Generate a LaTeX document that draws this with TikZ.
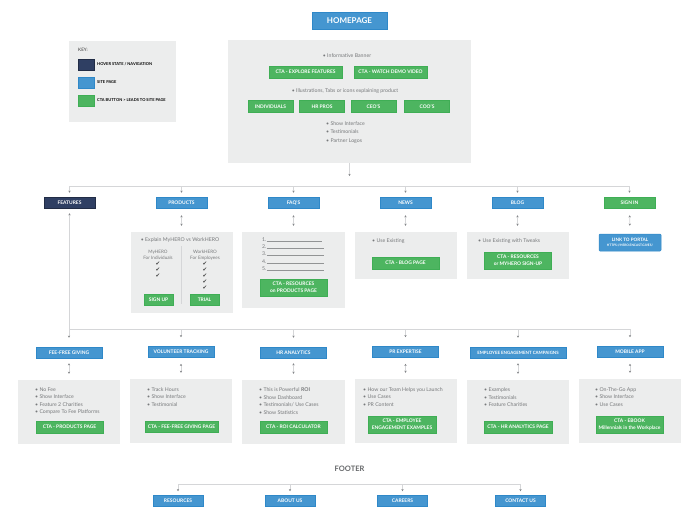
\documentclass[tikz,border=0pt]{standalone}
\usepackage{fontspec}
\setmainfont{Lato}
\newfontfamily\tickfont{DejaVu Sans}
\usetikzlibrary{arrows.meta}
\definecolor{pageblue}{HTML}{4596D0}
\definecolor{pageedge}{HTML}{2F88C8}
\definecolor{ctagreen}{HTML}{4DB560}
\definecolor{ctaedge}{HTML}{3FAE55}
\definecolor{navbar}{HTML}{2F3F63}
\definecolor{panelgray}{HTML}{ECEDED}
\definecolor{bodygray}{HTML}{77797B}
\definecolor{linegray}{HTML}{D5D6D8}
\definecolor{tipgray}{HTML}{85878A}
\tikzset{
	btn/.style={inner sep=0,align=center,text=white,font=\fontsize{4.9}{6.6}\selectfont\bfseries},
	page/.style={btn,fill=pageblue,draw=pageedge,line width=.5pt},
	hover/.style={btn,fill=navbar,draw=navbar!70!black,line width=.5pt},
	cta/.style={btn,fill=ctagreen,draw=ctaedge,line width=.5pt},
	panel/.style={fill=panelgray,inner sep=0},
	bullets/.style={anchor=west,inner sep=0,align=left,text=bodygray,font=\fontsize{5.2}{7.5}\selectfont},
	keytext/.style={anchor=west,inner sep=0,font=\fontsize{4}{4.5}\selectfont\bfseries},
	tick/.style={inner sep=0,text=black!75,font=\fontsize{5.5}{6}\selectfont\tickfont},
	bus/.style={color=linegray,line width=.7pt},
	link/.style={color=linegray,line width=.7pt,>={Stealth[length=2.2pt,width=2.4pt,color=tipgray]}}
}
\begin{document}
\begin{tikzpicture}[x=1pt,y=-1pt]
	\useasboundingbox (0,0) rectangle (700,521);
	% key
	\node[panel,minimum width=107pt,minimum height=81pt] (keybox) at (122.5,81.5) {};
	\node[anchor=west,inner sep=0,font=\fontsize{4.6}{5}\selectfont,text=black!80] (keytitle) at (78,50) {KEY:};
	\node[hover,minimum width=16pt,minimum height=11pt] (keyhover) at (86,64.5) {};
	\node[page,minimum width=16pt,minimum height=11pt] (keypage) at (86,82.5) {};
	\node[cta,minimum width=16pt,minimum height=11pt] (keycta) at (86,101) {};
	\node[keytext] (keyhovertxt) at (97,64) {HOVER STATE / NAVIGATION};
	\node[keytext] (keypagetxt) at (97,82.5) {SITE PAGE};
	\node[keytext] (keyctatxt) at (97,100.5) {CTA BUTTON > LEADS TO SITE PAGE};
	% homepage
	\node[page,minimum width=75pt,minimum height=17pt,font=\fontsize{8}{9}\selectfont\bfseries] (home) at (349.5,21) {HOMEPAGE};
	\node[panel,minimum width=243pt,minimum height=123pt] (homebox) at (349.5,101.5) {};
	\node[bullets,anchor=center] (banner) at (347,56) {• Informative Banner};
	\node[cta,minimum width=73pt,minimum height=12pt] (explore) at (305.5,72) {CTA - EXPLORE FEATURES};
	\node[cta,minimum width=73pt,minimum height=12pt] (watch) at (390.5,72) {CTA - WATCH DEMO VIDEO};
	\node[bullets,anchor=center] (illus) at (345,91) {• Illustrations, Tabs or icons explaining product};
	\node[cta,minimum width=45pt,minimum height=12pt] (indiv) at (270.5,106.5) {INDIVIDUALS};
	\node[cta,minimum width=45pt,minimum height=12pt] (hrpros) at (322,106.5) {HR PROS};
	\node[cta,minimum width=45pt,minimum height=12pt] (ceos) at (373.5,106.5) {CEO'S};
	\node[cta,minimum width=45pt,minimum height=12pt] (coos) at (427,106.5) {COO'S};
	\node[bullets,font=\fontsize{5.2}{8.7}\selectfont] (homelist) at (326,132.5) {• Show Interface\\• Testimonials\\• Partner Logos};
	% top row
	\coordinate (topbus) at (349.5,186.5);
	\node[hover,minimum width=51pt,minimum height=11pt] (features) at (69.5,202.5) {FEATURES};
	\node[page,minimum width=51pt,minimum height=11pt] (products) at (181.5,202.5) {PRODUCTS};
	\node[page,minimum width=51pt,minimum height=11pt,text depth=0pt] (faqs) at (293.5,202.5) {FAQ'S};
	\node[page,minimum width=51pt,minimum height=11pt] (news) at (405.5,202.5) {NEWS};
	\node[page,minimum width=51pt,minimum height=11pt] (blog) at (517.5,202.5) {BLOG};
	\node[cta,minimum width=51pt,minimum height=11pt] (signin) at (629.5,202.5) {SIGN IN};
	\draw[link,->,shorten >=10.5pt] (homebox.south) -- (topbus);
	\draw[bus] (features |- topbus) -- (signin |- topbus);
	\foreach \n in {features,products,faqs,news,blog,signin}
		\draw[link,->,shorten >=4pt] (\n |- topbus) -- (\n.north);
	% products
	\node[panel,minimum width=102pt,minimum height=81pt] (productsbox) at (181.5,272.5) {};
	\draw[link,<->,shorten <=7pt,shorten >=6pt] (products) -- (productsbox);
	\node[bullets,anchor=center] (explain) at (180,240) {• Explain MyHERO vs WorkHERO};
	\node[bullets,anchor=center,align=center,font=\fontsize{4.6}{6.2}\selectfont] (myhero) at (158,255) {MyHERO\\For Individuals};
	\node[bullets,anchor=center,align=center,font=\fontsize{4.6}{6.2}\selectfont] (workhero) at (205,255) {WorkHERO\\For Employees};
	\coordinate (divtop) at (181.5,246);
	\coordinate (divbot) at (181.5,304);
	\draw[bus] (divtop) -- (divbot);
	\foreach \y in {264,270,276}
		\node[tick] (mytick\y) at (158,\y) {✔};
	\foreach \y in {264,270,276,282,288}
		\node[tick] (worktick\y) at (205,\y) {✔};
	\node[cta,minimum width=29pt,minimum height=11pt] (signup) at (158.5,299.5) {SIGN UP};
	\node[cta,minimum width=29pt,minimum height=11pt] (trial) at (204.5,299.5) {TRIAL};
	% faqs
	\node[panel,minimum width=103pt,minimum height=76pt] (faqsbox) at (293.5,270) {};
	\draw[link,<->,shorten <=7pt,shorten >=6pt] (faqs) -- (faqsbox);
	\foreach \n/\y/\e in {1/241/322,2/248/324,3/255/324,4/263/324,5/270/324} {
		\node[anchor=base west,inner sep=0,text=bodygray,font=\fontsize{5.2}{6}\selectfont] (faqnum\n) at (262,\y) {\n.};
		\draw[color=bodygray!80,line width=.35pt] (faqnum\n.base east) -- (\e,\y);
	}
	\node[cta,minimum width=67pt,minimum height=17pt] (faqcta) at (293.5,287.5) {CTA - RESOURCES\\on PRODUCTS PAGE};
	% news
	\node[panel,minimum width=102pt,minimum height=47pt] (newsbox) at (406,255.5) {};
	\draw[link,<->,shorten <=7pt,shorten >=6pt] (news) -- (news |- newsbox.north);
	\node[bullets] (newslist) at (372,241) {• Use Existing};
	\node[cta,minimum width=67pt,minimum height=12pt] (newscta) at (405.5,263) {CTA - BLOG PAGE};
	% blog
	\node[panel,minimum width=102pt,minimum height=47pt] (blogbox) at (518,255.5) {};
	\draw[link,<->,shorten <=7pt,shorten >=6pt] (blog) -- (blog |- blogbox.north);
	\node[bullets] (bloglist) at (478,241) {• Use Existing with Tweaks};
	\node[cta,minimum width=67pt,minimum height=17pt] (blogcta) at (518,260.5) {CTA - RESOURCES\\or MYHERO SIGN-UP};
	% sign in
	\node[page,minimum width=62pt,minimum height=17pt,rounded corners=1pt,font=\fontsize{4.6}{6}\selectfont\bfseries] (portal) at (630,242.5) {LINK TO PORTAL\\[-.5pt]{\fontsize{3.2}{4}\selectfont HTTPS://HERO.ENCAST.GIVES/}};
	\draw[link,<->,shorten <=7pt,shorten >=8pt] (signin) -- (portal);
	% second row
	\coordinate (lowbus) at (349.5,329);
	\node[page,minimum width=66pt,minimum height=11pt] (feefree) at (69,352.5) {FEE-FREE GIVING};
	\node[page,minimum width=66pt,minimum height=11pt] (volunteer) at (181,352) {VOLUNTEER TRACKING};
	\node[page,minimum width=66pt,minimum height=11pt] (hranalytics) at (293.5,352.5) {HR ANALYTICS};
	\node[page,minimum width=66pt,minimum height=11pt] (prexpert) at (405.5,352) {PR EXPERTISE};
	\node[page,minimum width=96pt,minimum height=11pt,font=\fontsize{4.4}{5}\selectfont\bfseries] (engage) at (518,352.5) {EMPLOYEE ENGAGEMENT CAMPAIGNS};
	\node[page,minimum width=66pt,minimum height=11pt] (mobile) at (630,352) {MOBILE APP};
	\draw[bus] (feefree |- lowbus) -- (mobile |- lowbus);
	\draw[link,->,shorten >=5pt] (features |- lowbus) -- (features.south);
	\foreach \n in {feefree,volunteer,hranalytics,prexpert,engage,mobile}
		\draw[link,->,shorten >=9pt] (\n |- lowbus) -- (\n.north);
	% second row panels
	\node[panel,minimum width=102pt,minimum height=64pt] (feebox) at (69,412) {};
	\node[panel,minimum width=102pt,minimum height=64pt] (volbox) at (181,411) {};
	\node[panel,minimum width=103pt,minimum height=64pt] (hrbox) at (293.5,412) {};
	\node[panel,minimum width=102pt,minimum height=64pt] (prbox) at (406,411) {};
	\node[panel,minimum width=102pt,minimum height=64pt] (engbox) at (518,412) {};
	\node[panel,minimum width=102pt,minimum height=64pt] (mobbox) at (630,411) {};
	\draw[link,<->,shorten <=5pt,shorten >=6pt] (feefree) -- (feebox);
	\draw[link,<->,shorten <=6pt,shorten >=6pt] (volunteer) -- (volbox);
	\draw[link,<->,shorten <=5pt,shorten >=6pt] (hranalytics) -- (hrbox);
	\draw[link,<->,shorten <=6pt,shorten >=6pt] (prexpert) -- (prexpert |- prbox.north);
	\draw[link,<->,shorten <=5pt,shorten >=6pt] (engage) -- (engbox);
	\draw[link,<->,shorten <=6pt,shorten >=6pt] (mobile) -- (mobbox);
	\node[bullets] (feelist) at (35,401) {• No Fee\\• Show Interface\\• Feature 2 Charities\\• Compare To Fee Platforms};
	\node[bullets] (vollist) at (147,396.7) {• Track Hours\\• Show Interface\\• Testimonial};
	\node[bullets] (hrlist) at (259,401) {• This is Powerful \textbf{ROI}\\• Show Dashboard\\• Testimonials/ Use Cases\\• Show Statistics};
	\node[bullets] (prlist) at (363,396.7) {• How our Team Helps you Launch\\• Use Cases\\• PR Content};
	\node[bullets] (englist) at (484,397.5) {• Examples\\• Testimonials\\• Feature Charities};
	\node[bullets] (moblist) at (595,396.7) {• On-The-Go App\\• Show Interface\\• Use Cases};
	\node[cta,minimum width=67pt,minimum height=12pt] (feecta) at (69.5,427) {CTA - PRODUCTS PAGE};
	\node[cta,minimum width=73pt,minimum height=11pt] (volcta) at (181.5,426.5) {CTA - FEE-FREE GIVING PAGE};
	\node[cta,minimum width=67pt,minimum height=12pt] (hrcta) at (293.5,427) {CTA - ROI CALCULATOR};
	\node[cta,minimum width=68pt,minimum height=17pt] (prcta) at (402,424.5) {CTA - EMPLOYEE\\ENGAGEMENT EXAMPLES};
	\node[cta,minimum width=68pt,minimum height=12pt] (engcta) at (518,427) {CTA - HR ANALYTICS PAGE};
	\node[cta,minimum width=67pt,minimum height=17pt] (mobcta) at (629.5,424.5) {CTA - EBOOK\\Millennials in the Workplace};
	% footer
	\node[inner sep=0,text=bodygray!85!black,font=\fontsize{7.5}{8}\selectfont\bfseries] (footer) at (349.5,469) {FOOTER};
	\coordinate (footbus) at (349.5,484);
	\node[page,minimum width=50pt,minimum height=11pt] (resources) at (178,500.5) {RESOURCES};
	\node[page,minimum width=50pt,minimum height=11pt] (about) at (290,500.5) {ABOUT US};
	\node[page,minimum width=50pt,minimum height=11pt] (careers) at (402.5,500.5) {CAREERS};
	\node[page,minimum width=50pt,minimum height=11pt] (contact) at (520.5,500.5) {CONTACT US};
	\draw[bus] (resources |- footbus) -- (contact |- footbus);
	\foreach \n in {resources,about,careers,contact}
		\draw[link,->,shorten >=3.5pt] (\n |- footbus) -- (\n.north);
\end{tikzpicture}
\end{document}
